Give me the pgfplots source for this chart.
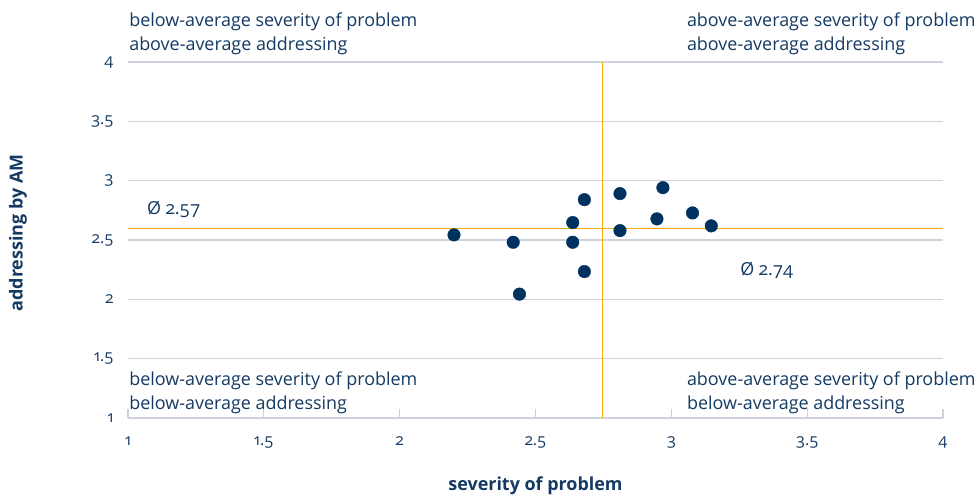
\documentclass[border=0pt]{standalone}
\usepackage{pgfplots}
\pgfplotsset{compat=1.18}
\usepackage{fontspec}
\setmainfont{Open Sans}[Numbers=OldStyle]
\definecolor{navy}{HTML}{143A63}
\definecolor{dotc}{HTML}{00325F}
\definecolor{gold}{HTML}{F2A900}
\definecolor{gridc}{HTML}{CDD3DC}
\begin{document}
\begin{tikzpicture}
\useasboundingbox (-128bp,-79bp) rectangle (850bp,418bp);
\begin{axis}[
  scale only axis, width=815bp, height=356bp,
  xmin=1, xmax=4, ymin=1, ymax=4,
  clip=false,
  xtick={1,1.5,2,2.5,3,3.5,4},
  ytick={1,1.5,2,2.5,3,3.5,4},
  /pgf/number format/assume math mode=true,
  /pgf/number format/fixed,
  axis line style={draw=none},
  ymajorgrids,
  grid style={gridc, line width=1.2bp},
  xtick pos=bottom,
  tick align=inside,
  major tick length=9bp,
  xtick style={gridc, line width=1.2bp},
  ytick style={draw=none},
  ticklabel style={font=\fontsize{16}{18}\selectfont, text=navy},
  xticklabel style={yshift=-15bp},
  yticklabel style={xshift=-11bp},
  xlabel={severity of problem},
  ylabel={addressing by AM},
  label style={font=\fontsize{18}{20}\selectfont\bfseries, text=navy},
  x label style={at={(axis description cs:0.5,-0.19)}, anchor=center},
  y label style={at={(axis description cs:-0.135,0.52)}, anchor=center, rotate=0},
]
\addplot[gold, line width=1.2bp, forget plot] coordinates {(1,2.6) (4,2.6)};
\addplot[gold, line width=1.2bp, forget plot] coordinates {(2.747,1) (2.747,4)};
\addplot[only marks, mark=*, mark size=6.3bp, mark options={fill=dotc, draw=dotc}] coordinates {
(2.200,2.543)
(2.418,2.481)
(2.441,2.044)
(2.637,2.647)
(2.637,2.481)
(2.680,2.840)
(2.680,2.234)
(2.811,2.891)
(2.811,2.579)
(2.969,2.941)
(2.947,2.678)
(3.078,2.728)
(3.147,2.619)
};
\begin{scope}[every node/.style={anchor=base west, inner sep=0pt, text=navy, font=\fontsize{18}{20}\selectfont}]
\node at (axis cs:1.004,4.297) {below-average severity of problem};
\node at (axis cs:1.004,4.095) {above-average addressing};
\node at (axis cs:3.057,4.297) {above-average severity of problem};
\node at (axis cs:3.057,4.095) {above-average addressing};
\node at (axis cs:1.004,1.272) {below-average severity of problem};
\node at (axis cs:1.004,1.073) {below-average addressing};
\node at (axis cs:3.057,1.272) {above-average severity of problem};
\node at (axis cs:3.057,1.073) {below-average addressing};
\node at (axis cs:1.07,2.711) {Ø 2.57};
\node at (axis cs:3.253,2.197) {Ø 2.74};
\end{scope}
\end{axis}
\end{tikzpicture}
\end{document}
